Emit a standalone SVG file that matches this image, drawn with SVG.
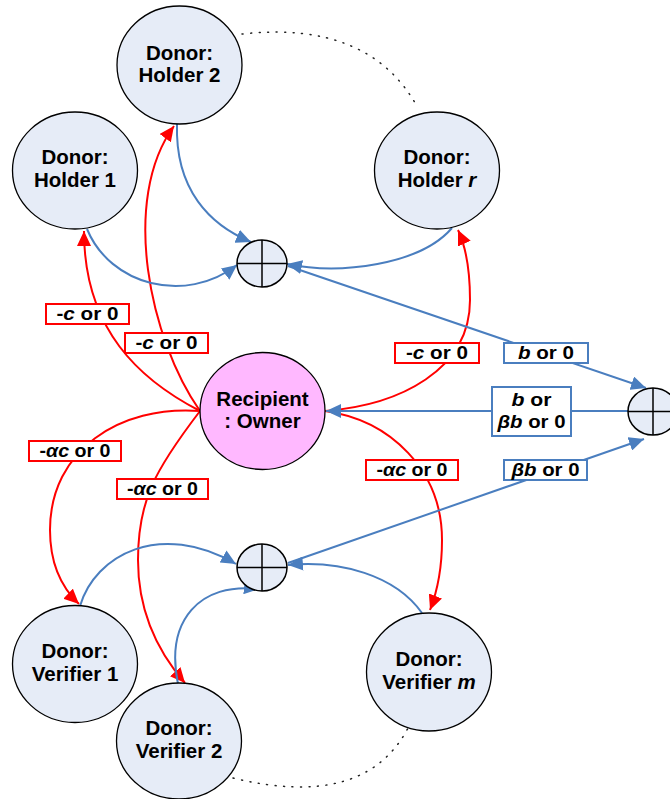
<svg xmlns="http://www.w3.org/2000/svg" width="670" height="799" viewBox="0 0 670 799">
<style>
.node{fill:#E6ECF7;stroke:#000;stroke-width:1.3}
.rec{fill:#FFB8FF;stroke:#000;stroke-width:1.3}
.sum{fill:#E6ECF7;stroke:#000;stroke-width:1.5}
.cross{stroke:#000;stroke-width:1.5}
.nt{font-family:"Liberation Sans",Arial,sans-serif;font-weight:bold;font-size:20.5px;text-anchor:middle;fill:#000}
.lt{font-family:"Liberation Sans",Arial,sans-serif;font-weight:bold;font-size:19px;text-anchor:middle;fill:#000}
.red{fill:none;stroke:#FF0000;stroke-width:2}
.blue{fill:none;stroke:#4A7EBF;stroke-width:2}
.rbox{fill:#fff;stroke:#FF0000;stroke-width:2}
.bbox{fill:#fff;stroke:#4A7EBF;stroke-width:2}
.dot{fill:none;stroke:#222;stroke-width:1.5;stroke-dasharray:1 7.5;stroke-linecap:round}
</style>
<defs>
<marker id="ar" markerUnits="userSpaceOnUse" markerWidth="16" markerHeight="14" refX="15" refY="7" orient="auto"><path d="M0,0 L15,7 L0,14 z" fill="#FF0000"/></marker>
<marker id="ab" markerUnits="userSpaceOnUse" markerWidth="16" markerHeight="14" refX="15" refY="7" orient="auto"><path d="M0,0 L15,7 L0,14 z" fill="#4A7EBF"/></marker>
</defs>
<g id="dotted">
<path class="dot" d="M242,34 Q370,20 418,108"/>
<path class="dot" d="M233,778 Q365,810 408,728"/>
</g>
<g id="connectors">
<path class="red" marker-end="url(#ar)" d="M200,411 C140,380 84,330 84,231"/>
<path class="red" marker-end="url(#ar)" d="M200,411 C150,340 120,200 174,126"/>
<path class="red" marker-end="url(#ar)" d="M200,411 C120,405 50,450 50,530 C50,565 62,588 79,604"/>
<path class="red" marker-end="url(#ar)" d="M200,411 C155,470 138,500 138,560 C138,620 165,660 185,683"/>
<path class="red" marker-end="url(#ar)" d="M325,411 C400,405 470,370 470,300 C470,265 465,245 458,230"/>
<path class="red" marker-end="url(#ar)" d="M325,411 C390,420 442,470 442,540 C442,570 437,592 430,610"/>
<path class="blue" marker-end="url(#ab)" d="M177,124 C175,190 210,225 251,242"/>
<path class="blue" marker-end="url(#ab)" d="M87,229 C110,285 185,305 237,265"/>
<path class="blue" marker-end="url(#ab)" d="M452,228 C420,265 340,275 287,264"/>
<path class="blue" marker-end="url(#ab)" d="M288,266 L646,388"/>
<path class="blue" marker-end="url(#ab)" d="M628,411 L326,411"/>
<path class="blue" marker-end="url(#ab)" d="M288,563 L644,439"/>
<path class="blue" marker-end="url(#ab)" d="M80,606 C95,555 160,520 236,564"/>
<path class="blue" marker-end="url(#ab)" d="M178,684 C165,620 200,582 259,589"/>
<path class="blue" marker-end="url(#ab)" d="M422,613 C395,575 340,560 288,565"/>
</g>
<g id="holder2"><ellipse class="node" cx="179.5" cy="65" rx="62.5" ry="59"/><text class="nt" x="179.5" y="60">Donor:</text><text class="nt" x="179.5" y="82">Holder 2</text></g>
<g id="holder1"><ellipse class="node" cx="75" cy="170.5" rx="62.5" ry="58.5"/><text class="nt" x="75" y="164">Donor:</text><text class="nt" x="75" y="187">Holder 1</text></g>
<g id="holderr"><ellipse class="node" cx="437" cy="170.5" rx="62.5" ry="58.5"/><text class="nt" x="437" y="164">Donor:</text><text class="nt" x="437" y="187">Holder <tspan font-style="italic">r</tspan></text></g>
<g id="sumtop"><ellipse class="sum" cx="262" cy="263.5" rx="25" ry="23.5"/><line class="cross" x1="237" y1="263.5" x2="287" y2="263.5"/><line class="cross" x1="262" y1="240" x2="262" y2="287"/></g>
<g id="recipient"><ellipse class="rec" cx="262.5" cy="411" rx="62.5" ry="58.5"/><text class="nt" x="262.5" y="406">Recipient</text><text class="nt" x="262.5" y="428">: Owner</text></g>
<g id="sumright"><ellipse class="sum" cx="653" cy="411.5" rx="25" ry="23.5"/><line class="cross" x1="628" y1="411.5" x2="678" y2="411.5"/><line class="cross" x1="653" y1="388" x2="653" y2="435"/></g>
<g id="sumbottom"><ellipse class="sum" cx="262" cy="567.5" rx="25" ry="23.5"/><line class="cross" x1="237" y1="567.5" x2="287" y2="567.5"/><line class="cross" x1="262" y1="544" x2="262" y2="591"/></g>
<g id="verifier1"><ellipse class="node" cx="75" cy="664" rx="62.5" ry="58.5"/><text class="nt" x="75" y="658">Donor:</text><text class="nt" x="75" y="681">Verifier 1</text></g>
<g id="verifier2"><ellipse class="node" cx="179" cy="741" rx="62.5" ry="58"/><text class="nt" x="179" y="735">Donor:</text><text class="nt" x="179" y="758">Verifier 2</text></g>
<g id="verifierm"><ellipse class="node" cx="429" cy="672" rx="62.5" ry="59"/><text class="nt" x="429" y="666">Donor:</text><text class="nt" x="429" y="689">Verifier <tspan font-style="italic">m</tspan></text></g>
<g id="labels">
<rect class="rbox" x="46" y="304" width="83" height="20"/><text class="lt" x="87.5" y="320" textLength="62" lengthAdjust="spacingAndGlyphs">-<tspan font-style="italic">c</tspan> or 0</text>
<rect class="rbox" x="125" y="333" width="83" height="20"/><text class="lt" x="166.5" y="349" textLength="62" lengthAdjust="spacingAndGlyphs">-<tspan font-style="italic">c</tspan> or 0</text>
<rect class="rbox" x="29" y="441" width="92" height="20"/><text class="lt" x="75" y="457" textLength="71" lengthAdjust="spacingAndGlyphs">-<tspan font-style="italic">αc</tspan> or 0</text>
<rect class="rbox" x="117" y="479" width="91" height="20"/><text class="lt" x="162.5" y="495" textLength="71" lengthAdjust="spacingAndGlyphs">-<tspan font-style="italic">αc</tspan> or 0</text>
<rect class="rbox" x="395" y="343" width="84" height="20"/><text class="lt" x="437" y="359" textLength="62" lengthAdjust="spacingAndGlyphs">-<tspan font-style="italic">c</tspan> or 0</text>
<rect class="rbox" x="366" y="460" width="92" height="20"/><text class="lt" x="412" y="476" textLength="71" lengthAdjust="spacingAndGlyphs">-<tspan font-style="italic">αc</tspan> or 0</text>
<rect class="bbox" x="504" y="343" width="84" height="20"/><text class="lt" x="546" y="359" textLength="56" lengthAdjust="spacingAndGlyphs"><tspan font-style="italic">b</tspan> or 0</text>
<rect class="bbox" x="492" y="387" width="79" height="49"/><text class="lt" x="531.5" y="406" textLength="40" lengthAdjust="spacingAndGlyphs"><tspan font-style="italic">b</tspan> or</text><text class="lt" x="531.5" y="428" textLength="68" lengthAdjust="spacingAndGlyphs"><tspan font-style="italic">βb</tspan> or 0</text>
<rect class="bbox" x="504" y="460" width="83" height="20"/><text class="lt" x="545.5" y="476" textLength="68" lengthAdjust="spacingAndGlyphs"><tspan font-style="italic">βb</tspan> or 0</text>
</g>
</svg>
